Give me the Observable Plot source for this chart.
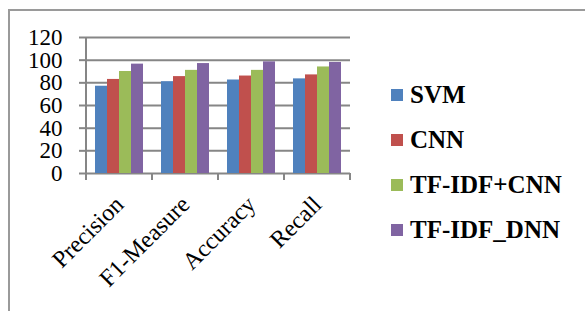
<!DOCTYPE html>
<html>
<head>
<meta charset="utf-8">
<script src="https://cdn.jsdelivr.net/npm/d3@7"></script>
<script src="https://cdn.jsdelivr.net/npm/@observablehq/plot@0.6"></script>
<style>
  html, body { margin: 0; padding: 0; background: #fff; }
  #wrap { position: relative; width: 585px; height: 311px; overflow: hidden; font-family: "Liberation Serif", "Times New Roman", serif; }
  #border { position: absolute; left: 8px; top: 9px; width: 700px; height: 400px; border-left: 2px solid #9a9a9a; border-top: 2px solid #9a9a9a; box-sizing: border-box; }
  #chart { position: absolute; left: 0; top: 0; }
  #legend { position: absolute; left: 391px; top: 72px; }
  .item { height: 45px; display: flex; align-items: center; font-weight: bold; font-size: 25px; color: #000; white-space: nowrap; font-family: "Liberation Serif", serif; }
  .sw { width: 12px; height: 12px; margin-right: 7px; flex: none; }
  #chart svg text { font-family: "Liberation Serif", serif; }
</style>
</head>
<body>
<div id="wrap">
  <div id="border"></div>
  <div id="chart"></div>
  <div id="legend"></div>
</div>
<script>
const categories = ["Precision", "F1-Measure", "Accuracy", "Recall"];
const series = ["SVM", "CNN", "TF-IDF+CNN", "TF-IDF_DNN"];
const colors = ["#4F81BD", "#C0504D", "#9BBB59", "#8064A2"];
const svm = [77, 81, 82.5, 83.5];
const cnn = [83, 85.5, 86, 87];
const tfidfCnn = [90, 91, 91, 94];
const tfidfDnn = [96.5, 97, 98.5, 98];
const yTicks = [0, 20, 40, 60, 80, 100, 120];

const values = [svm, cnn, tfidfCnn, tfidfDnn];
const data = categories.flatMap((c, i) => series.map((s, j) => ({category: c, series: s, value: values[j][i]})));

const grid = "#868686";
const plot = Plot.plot({
  width: 585,
  height: 311,
  marginLeft: 86,
  marginRight: 235,
  marginTop: 37,
  marginBottom: 138,
  style: {fontFamily: "Liberation Serif, serif", fontSize: "23px", color: "#000", background: "transparent"},
  fx: {domain: categories, padding: 0, label: null, axis: null},
  x: {domain: series, paddingInner: 0, paddingOuter: 0.75, axis: null},
  y: {domain: [0, 120], label: null},
  color: {domain: series, range: colors},
  marks: [
    Plot.gridY(yTicks, {stroke: grid, strokeOpacity: 1, strokeWidth: 2}),
    Plot.barY(data, {fx: "category", x: "series", y: "value", fill: "series"}),
    Plot.axisY(yTicks, {tickSize: 7, tickPadding: 17, stroke: grid, strokeWidth: 2, label: null, fontSize: 23}),
    Plot.axisFx({anchor: "bottom", tickSize: 0, tickRotate: -45, tickPadding: 27, label: null, fontSize: 24})
  ]
});
document.getElementById("chart").appendChild(plot);

// axis line and category boundary ticks from the library's scales
const fx = plot.scale("fx");
const ys = plot.scale("y");
const svg = d3.select(plot);
const y0 = ys.apply(0), yTop = ys.apply(120);
const bw = fx.bandwidth;
const bounds = categories.map(c => fx.apply(c));
bounds.push(bounds[bounds.length - 1] + bw);
const g = svg.append("g").attr("stroke", grid).attr("stroke-width", 2);
g.append("line").attr("x1", bounds[0]).attr("x2", bounds[0]).attr("y1", yTop).attr("y2", y0 + 7);
bounds.forEach(b => g.append("line").attr("x1", b).attr("x2", b).attr("y1", y0).attr("y2", y0 + 7));

// legend
const legend = document.getElementById("legend");
series.forEach((s, i) => {
  const item = document.createElement("div");
  item.className = "item";
  const sw = document.createElement("span");
  sw.className = "sw";
  sw.style.background = colors[i];
  item.appendChild(sw);
  item.appendChild(document.createTextNode(s));
  legend.appendChild(item);
});
</script>
</body>
</html>
